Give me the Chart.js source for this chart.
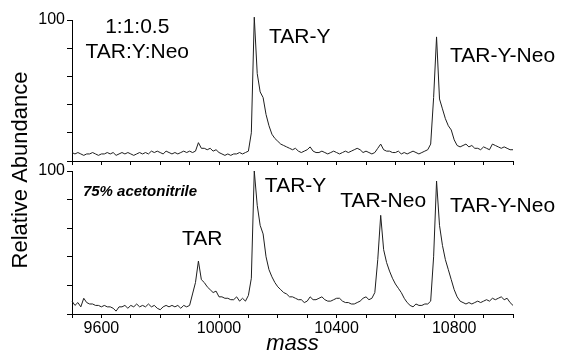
<!DOCTYPE html>
<html>
<head>
<meta charset="utf-8">
<script src="https://cdn.jsdelivr.net/npm/chart.js@4.4.1/dist/chart.umd.min.js"></script>
<style>
  body { margin: 0; background: #fff; }
  #wrap { position: relative; width: 563px; height: 355px; }
  #wrap canvas { position: absolute; left: 0; top: 0; }
</style>
</head>
<body>
<div id="wrap">
  <canvas id="topChart" width="563" height="355"></canvas>
  <canvas id="bottomChart" width="563" height="355"></canvas>
</div>
<script>
/*----- data (mass step 10) -----*/
var mass = [
  9500, 9510, 9520, 9530, 9540, 9550, 9560, 9570, 9580, 9590,
  9600, 9610, 9620, 9630, 9640, 9650, 9660, 9670, 9680, 9690,
  9700, 9710, 9720, 9730, 9740, 9750, 9760, 9770, 9780, 9790,
  9800, 9810, 9820, 9830, 9840, 9850, 9860, 9870, 9880, 9890,
  9900, 9910, 9920, 9930, 9940, 9950, 9960, 9970, 9980, 9990,
  10000, 10010, 10020, 10030, 10040, 10050, 10060, 10070, 10080, 10090,
  10100, 10110, 10120, 10130, 10140, 10150, 10160, 10170, 10180, 10190,
  10200, 10210, 10220, 10230, 10240, 10250, 10260, 10270, 10280, 10290,
  10300, 10310, 10320, 10330, 10340, 10350, 10360, 10370, 10380, 10390,
  10400, 10410, 10420, 10430, 10440, 10450, 10460, 10470, 10480, 10490,
  10500, 10510, 10520, 10530, 10540, 10550, 10560, 10570, 10580, 10590,
  10600, 10610, 10620, 10630, 10640, 10650, 10660, 10670, 10680, 10690,
  10700, 10710, 10720, 10730, 10740, 10750, 10760, 10770, 10780, 10790,
  10800, 10810, 10820, 10830, 10840, 10850, 10860, 10870, 10880, 10890,
  10900, 10910, 10920, 10930, 10940, 10950, 10960, 10970, 10980, 10990,
  11000
];

// 1:1:0.5 TAR:Y:Neo
var abundTop = [
  6, 5, 6, 5, 4, 5, 5, 6, 5, 4,
  5, 5, 6, 5, 6, 4, 5, 6, 5, 6,
  5, 4, 5, 6, 5, 6, 5, 7, 6, 7,
  6, 5, 7, 6, 5, 6, 5, 6, 7, 6,
  7, 6, 7, 13, 9, 9, 8, 9, 7, 8,
  6, 5, 4, 5, 4, 5, 5, 6, 5, 6,
  7, 20, 102, 62, 49, 45, 33, 25, 19, 16,
  14, 12, 11, 10, 9, 8, 9, 7, 6, 7,
  8, 10, 7, 6, 6, 7, 6, 5, 6, 7,
  6, 5, 6, 7, 6, 7, 8, 9, 8, 6,
  7, 6, 5, 6, 9, 12, 8, 7, 7, 6,
  6, 7, 5, 6, 5, 6, 7, 6, 5, 6,
  7, 8, 12, 45, 88, 44, 37, 30, 25, 22,
  15, 11, 10, 11, 12, 10, 11, 9, 9, 8,
  10, 9, 8, 12, 11, 10, 9, 10, 9, 8,
  8
];

// 75% acetonitrile
var abundBottom = [
  9, 6, 8, 5, 11, 8, 7, 7, 6, 6,
  5, 6, 5, 5, 4, 2, 5, 5, 6, 4,
  6, 5, 7, 5, 6, 5, 7, 5, 6, 4,
  3, 5, 6, 5, 6, 5, 6, 4, 6, 5,
  6, 14, 22, 37, 24, 22, 19, 17, 15, 16,
  12, 12, 11, 11, 10, 10, 12, 9, 11, 9,
  13, 25, 100, 76, 62, 56, 40, 31, 26, 22,
  19, 17, 15, 14, 12, 12, 11, 10, 10, 8,
  9, 12, 10, 10, 11, 12, 10, 9, 9, 10,
  11, 11, 9, 8, 8, 7, 7, 8, 9, 11,
  12, 10, 11, 15, 38, 69, 45, 36, 30, 25,
  21, 18, 15, 11, 8, 6, 5, 7, 6, 6,
  7, 7, 9, 40, 93, 62, 48, 38, 31, 24,
  17, 12, 9, 8, 7, 8, 7, 8, 9, 8,
  9, 10, 9, 11, 10, 11, 12, 10, 11, 8,
  6
];

var massLabels = [9600, 10000, 10400, 10800];

// peak labels: [text, mass, abundance at baseline of text]
var topNotes = [
  ['1:1:0.5', 9722, 91],
  ['TAR:Y:Neo', 9722, 73],
  ['TAR-Y', 10170, 84],
  ['TAR-Y-Neo', 10786, 70]
];
var bottomNotes = [
  ['TAR', 9874, 48],
  ['TAR-Y', 10156, 85],
  ['TAR-Neo', 10412, 75],
  ['TAR-Y-Neo', 10786, 71]
];

var FONT = "'Liberation Sans', Arial, sans-serif";

function makePoints(xs, ys) {
    var pts = [];
    for (var i = 0; i < xs.length; i++) {
        pts.push({ x: xs[i], y: ys[i] });
    }
    return pts;
}

function notesPlugin(notes, extra) {
    return {
        id: 'notes',
        afterDraw: function(chart) {
            var ctx = chart.ctx;
            var sx = chart.scales.x, sy = chart.scales.y;
            ctx.save();
            ctx.fillStyle = '#000';
            ctx.textBaseline = 'alphabetic';
            ctx.font = '21px ' + FONT;
            for (var i = 0; i < notes.length; i++) {
                ctx.textAlign = notes[i][0].indexOf(':') >= 0 ? 'center' : 'left';
                ctx.fillText(notes[i][0], sx.getPixelForValue(notes[i][1]), sy.getPixelForValue(notes[i][2]));
            }
            if (extra) extra(chart, ctx);
            ctx.restore();
        }
    };
}

function panel(id, values, padTop, axisBottom, showLabels, notes, extra) {
    var ctx = document.getElementById(id).getContext('2d');
    return new Chart(ctx, {
        type: 'line',
        data: {
            datasets: [{
                data: makePoints(mass, values),
                borderColor: '#1e1e1e',
                borderWidth: 1,
                pointRadius: 0,
                tension: 0,
                fill: false,
                clip: false
            }]
        },
        options: {
            responsive: false,
            animation: false,
            devicePixelRatio: 1,
            layout: { padding: { left: 0, right: 50, top: padTop, bottom: 0 } },
            plugins: { legend: { display: false }, tooltip: { enabled: false } },
            scales: {
                x: {
                    type: 'linear',
                    min: 9500,
                    max: 11000,
                    border: { display: true, color: '#000', width: 1 },
                    grid: { drawOnChartArea: false, drawTicks: true, tickLength: 4, tickColor: '#000' },
                    ticks: {
                        stepSize: 100,
                        autoSkip: false,
                        maxRotation: 0,
                        padding: 1,
                        color: '#000',
                        font: { family: FONT, size: 16 },
                        callback: function(v) {
                            return (showLabels && massLabels.indexOf(v) >= 0) ? String(v) : '';
                        }
                    },
                    afterFit: function(s) { s.height = 355 - axisBottom; }
                },
                y: {
                    min: 0,
                    max: 100,
                    border: { display: true, color: '#000', width: 1 },
                    grid: { drawOnChartArea: false, drawTicks: true, tickLength: 5, tickColor: '#000' },
                    ticks: {
                        stepSize: 20,
                        padding: 2,
                        color: '#000',
                        font: { family: FONT, size: 16 },
                        callback: function(v) { return v === 100 ? '100' : ''; }
                    },
                    afterFit: function(s) { s.width = 72; }
                }
            }
        },
        plugins: [notesPlugin(notes, extra)]
    });
}

panel('topChart', abundTop, 20, 161, false, topNotes);

panel('bottomChart', abundBottom, 171, 314, true, bottomNotes, function(chart, ctx) {
    var sx = chart.scales.x, sy = chart.scales.y;
    ctx.textAlign = 'left';
    ctx.font = 'italic bold 15px ' + FONT;
    ctx.fillText('75% acetonitrile', sx.getPixelForValue(9537), sy.getPixelForValue(82.5));
    // axis titles
    var area = chart.chartArea;
    ctx.font = 'italic 22px ' + FONT;
    ctx.textAlign = 'center';
    ctx.fillText('mass', (area.left + area.right) / 2, 350);
    ctx.save();
    ctx.translate(27, 170);
    ctx.rotate(-Math.PI / 2);
    ctx.font = '22px ' + FONT;
    ctx.fillText('Relative Abundance', 0, 0);
    ctx.restore();
});
</script>
</body>
</html>
